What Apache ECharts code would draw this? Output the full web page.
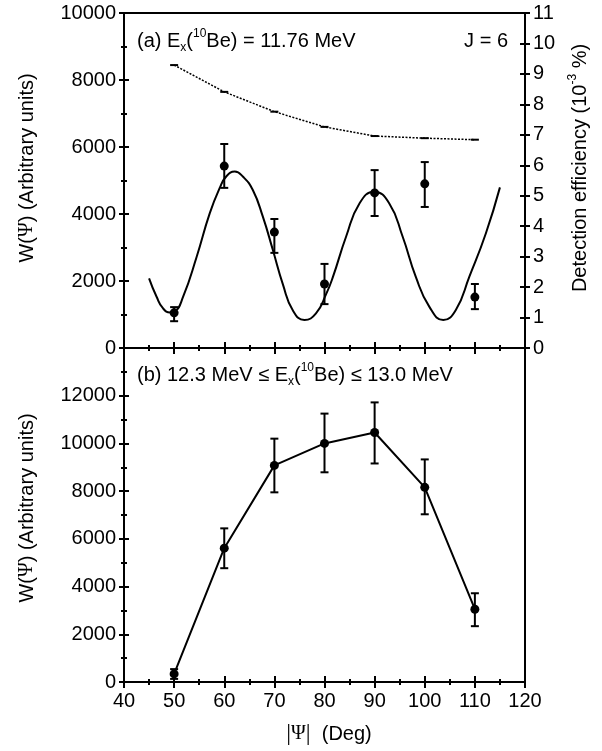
<!DOCTYPE html>
<html>
<head>
<meta charset="utf-8">
<script src="https://cdn.jsdelivr.net/npm/echarts@6/dist/echarts.min.js"></script>
<style>
    html, body { margin: 0; padding: 0; background: #fff; }
    #myChart { width: 602px; height: 751px; }
</style>
</head>
<body>
<div id="myChart"></div>
<script>
// measured angles (deg)
const angles = [50, 60, 70, 80, 90, 100, 110];

// panel (a): Ex = 11.76 MeV
const topW = [1050, 5430, 3460, 1910, 4630, 4900, 1520];
const topLo = [800, 4780, 2840, 1310, 3940, 4210, 1160];
const topHi = [1220, 6090, 3850, 2510, 5310, 5550, 1910];
// detection efficiency (10^-3 %)
const effic = [9.29, 8.41, 7.76, 7.26, 6.96, 6.89, 6.84];
// J = 6 fit curve
const curveX = [45.0, 46.5, 47.8, 49.2, 50.1, 51.8, 54.5, 57.1, 59.1, 60.4, 62.1, 63.7, 65.7, 67.7, 69.7, 71.7, 73.7, 76.0, 78.3, 80.3, 81.7, 84.3, 87.0, 89.9, 92.9, 95.6, 98.2, 100.9, 103.7, 106.2, 108.9, 112.2, 115.0];
const curveY = [2080, 1530, 1180, 1060, 1085, 1530, 2725, 4020, 4780, 5120, 5265, 5120, 4715, 3920, 2925, 1900, 1120, 835, 1035, 1600, 2130, 3320, 4320, 4665, 4320, 3320, 2130, 1235, 835, 1135, 2130, 3425, 4795];

// panel (b): 12.3 <= Ex <= 13.0 MeV
const botW = [340, 5610, 9080, 10000, 10460, 8160, 3050];
const botLo = [130, 4770, 7950, 8790, 9160, 7030, 2340];
const botHi = [540, 6440, 10200, 11250, 11720, 9330, 3720];

const FONT = 'Liberation Sans, Arial, Helvetica, sans-serif';
const SERIF = 'Liberation Serif, DejaVu Serif, serif';
const FS = 20;

function errorBars(params, api) {
    let x = api.value(0)
    let lo = api.coord([x, api.value(1)])
    let hi = api.coord([x, api.value(2)])
    let w = 4
    let st = { stroke: '#000', lineWidth: 2 }
    return {
        type: 'group',
        children: [
            { type: 'line', shape: { x1: lo[0], y1: lo[1], x2: hi[0], y2: hi[1] }, style: st },
            { type: 'line', shape: { x1: lo[0] - w, y1: lo[1], x2: lo[0] + w, y2: lo[1] }, style: st },
            { type: 'line', shape: { x1: hi[0] - w, y1: hi[1], x2: hi[0] + w, y2: hi[1] }, style: st }
        ]
    }
}

function xAxisDef(grid, inside, showLabel) {
    return {
        type: 'value', gridIndex: grid, position: 'bottom',
        min: 40, max: 120, interval: 10,
        axisLine: { show: true, onZero: false, lineStyle: { color: '#000', width: 2 } },
        axisTick: { show: true, inside: inside, length: 6, lineStyle: { color: '#000', width: 2 } },
        minorTick: { show: true, splitNumber: 2, length: 3, lineStyle: { color: '#000', width: 2 } },
        axisLabel: { show: showLabel, color: '#000', fontSize: FS, fontFamily: FONT, margin: 9 },
        splitLine: { show: false }
    }
}

function yAxisDef(grid, pos, min, max, interval, inside, showLabel, minor, fmt) {
    return {
        type: 'value', gridIndex: grid, position: pos,
        min: min, max: max, interval: interval,
        axisLine: { show: true, onZero: false, lineStyle: { color: '#000', width: 2 } },
        axisTick: { show: true, inside: inside, length: 5, lineStyle: { color: '#000', width: 2 } },
        minorTick: { show: minor, splitNumber: 2, length: 3, lineStyle: { color: '#000', width: 2 } },
        axisLabel: { show: showLabel, color: '#000', fontSize: FS, fontFamily: FONT, margin: 8, formatter: fmt || (v => String(v)) },
        splitLine: { show: false }
    }
}

const richBase = {
    n: { fontSize: FS, fontFamily: FONT, color: '#000', lineHeight: 26 },
    sub: { fontSize: 12, fontFamily: FONT, color: '#000', verticalAlign: 'bottom', lineHeight: 26 },
    sup: { fontSize: 12, fontFamily: FONT, color: '#000', verticalAlign: 'top', lineHeight: 24 },
    psi: { fontSize: FS, fontFamily: SERIF, color: '#000', lineHeight: 26 },
    bar: { fontSize: 24, fontFamily: SERIF, color: '#000', lineHeight: 26 }
};

let myChart = echarts.init(document.getElementById('myChart'))

myChart.setOption({
    backgroundColor: '#fff',
    animation: false,
    grid: [
        { left: 124, top: 13, width: 401, height: 335, show: true, borderColor: '#000', borderWidth: 2, outerBoundsMode: 'none' },
        { left: 124, top: 348, width: 401, height: 334, show: true, borderColor: '#000', borderWidth: 2, outerBoundsMode: 'none' }
    ],
    xAxis: [
        xAxisDef(0, false, false),
        xAxisDef(0, true, false),
        xAxisDef(1, false, true),
        xAxisDef(1, true, false)
    ],
    yAxis: [
        yAxisDef(0, 'left', 0, 10000, 2000, false, true, true),
        yAxisDef(0, 'left', 0, 10000, 2000, true, false, true),
        yAxisDef(0, 'right', 0, 11, 1, false, true, false),
        yAxisDef(0, 'right', 0, 11, 1, true, false, false),
        yAxisDef(1, 'left', 0, 14000, 2000, false, true, true, v => (v >= 14000 ? '' : String(v))),
        yAxisDef(1, 'left', 0, 14000, 2000, true, false, true)
    ],
    series: [
        {
            name: 'fit', type: 'line', xAxisIndex: 0, yAxisIndex: 0,
            smooth: true, showSymbol: false, symbol: 'none',
            lineStyle: { color: '#000', width: 2 },
            data: curveX.map((x, i) => [x, curveY[i]])
        },
        {
            name: 'efficiency', type: 'line', xAxisIndex: 0, yAxisIndex: 2,
            symbol: 'rect', symbolSize: [8, 2],
            itemStyle: { color: '#000' },
            lineStyle: { color: '#000', width: 1.5, type: [2, 1.5] },
            data: angles.map((x, i) => [x, effic[i]])
        },
        {
            name: 'errA', type: 'custom', xAxisIndex: 0, yAxisIndex: 0,
            renderItem: errorBars,
            encode: { x: 0, y: [1, 2] },
            data: angles.map((x, i) => [x, topLo[i], topHi[i]])
        },
        {
            name: 'dataA', type: 'scatter', xAxisIndex: 0, yAxisIndex: 0,
            symbol: 'circle', symbolSize: 9,
            itemStyle: { color: '#000', opacity: 1 },
            data: angles.map((x, i) => [x, topW[i]])
        },
        {
            name: 'errB', type: 'custom', xAxisIndex: 2, yAxisIndex: 4,
            renderItem: errorBars,
            encode: { x: 0, y: [1, 2] },
            data: angles.map((x, i) => [x, botLo[i], botHi[i]])
        },
        {
            name: 'dataB', type: 'line', xAxisIndex: 2, yAxisIndex: 4,
            symbol: 'circle', symbolSize: 9, showSymbol: true,
            itemStyle: { color: '#000', opacity: 1 },
            lineStyle: { color: '#000', width: 2 },
            data: angles.map((x, i) => [x, botW[i]])
        }
    ],
    graphic: [
        {
            type: 'text', x: 137, y: 41,
            style: {
                text: '{n|(a) E}{sub|x}{n|(}{sup|10}{n|Be) = 11.76 MeV}',
                rich: richBase, align: 'left', verticalAlign: 'middle'
            }
        },
        {
            type: 'text', x: 508, y: 41,
            style: { text: '{n|J = 6}', rich: richBase, align: 'right', verticalAlign: 'middle' }
        },
        {
            type: 'text', x: 137, y: 375,
            style: {
                text: '{n|(b) 12.3 MeV \u2264 E}{sub|x}{n|(}{sup|10}{n|Be) \u2264 13.0 MeV}',
                rich: richBase, align: 'left', verticalAlign: 'middle'
            }
        },
        {
            type: 'text', x: 27, y: 168, rotation: Math.PI / 2,
            style: {
                text: '{n|W(}{psi|\u03A8}{n|) (Arbitrary units)}',
                rich: richBase, align: 'center', verticalAlign: 'middle'
            }
        },
        {
            type: 'text', x: 27, y: 508, rotation: Math.PI / 2,
            style: {
                text: '{n|W(}{psi|\u03A8}{n|) (Arbitrary units)}',
                rich: richBase, align: 'center', verticalAlign: 'middle'
            }
        },
        {
            type: 'text', x: 580, y: 168, rotation: Math.PI / 2,
            style: {
                text: '{n|Detection efficiency (10}{sup|-3}{n| %)}',
                rich: richBase, align: 'center', verticalAlign: 'middle'
            }
        },
        {
            type: 'text', x: 329, y: 734,
            style: {
                text: '{bar||}{psi|\u03A8}{bar||}{n|  (Deg)}',
                rich: richBase, align: 'center', verticalAlign: 'middle'
            }
        }
    ]
});
</script>
</body>
</html>
